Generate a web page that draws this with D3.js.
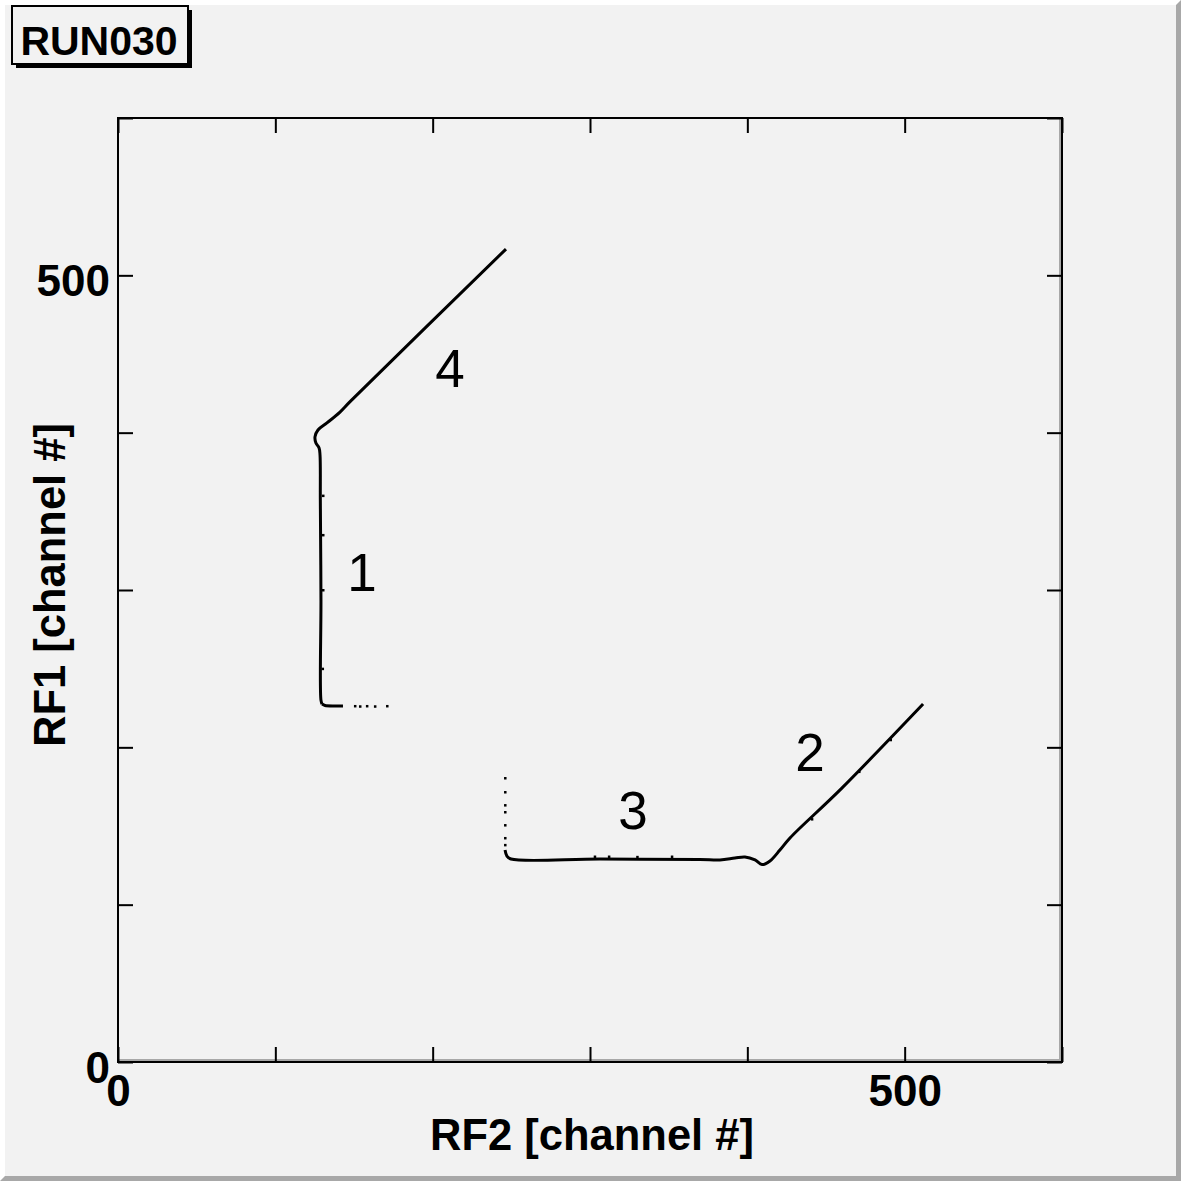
<!DOCTYPE html>
<html>
<head>
<meta charset="utf-8">
<script src="https://cdn.jsdelivr.net/npm/d3@7"></script>
<style>
  body { margin: 0; background: #f2f2f2; }
  svg { display: block; }
</style>
</head>
<body>
<div id="chart"></div>
<script>
var svgWidth = 1181;
var svgHeight = 1181;

var margin = {
  top: 118,
  right: 119,
  bottom: 119,
  left: 118
};

var width = svgWidth - margin.left - margin.right;
var height = svgHeight - margin.top - margin.bottom;

// chart data (channel units)
var runTitle = "RUN030";
var xTitle = "RF2 [channel #]";
var yTitle = "RF1 [channel #]";
var axisDomain = [0, 600];
var tickValues = [0, 100, 200, 300, 400, 500, 600];
var tickLabels = [0, 500];

// tracks 1 + 4 (vertical then diagonal)
var trackA = [
  [129.7, 227.5], [129.0, 230.0], [129.0, 293.6], [128.6, 357.2],
  [128.4, 385.8], [127.8, 390.3], [125.8, 393.4], [125.2, 397.3],
  [127.1, 401.7], [132.8, 406.2], [141.1, 413.1], [147.5, 419.7],
  [246.6, 516.7]
];
// bottom tail of track 1
var tailA = [[129.7, 227.5], [131.6, 226.6], [138.0, 226.3], [143.0, 226.3]];
var dotsA = [
  [150.6, 226.3], [153.8, 226.1], [158.2, 226.3], [163.3, 226.1], [171.0, 226.3],
  [130.3, 360.0], [130.3, 300.0], [130.0, 250.0], [130.3, 335.0]
];

// tracks 3 + 2 (horizontal then diagonal)
var trackB = [
  [246.0, 134.7], [247.2, 130.9], [249.8, 129.0], [306.4, 129.0],
  [369.9, 128.7], [382.6, 128.4], [392.1, 129.6], [398.5, 130.3],
  [404.9, 128.4], [409.3, 125.5], [414.4, 127.8], [420.7, 134.7],
  [427.1, 142.4], [459.6, 173.6], [511.7, 227.5]
];
var dotsB = [
  [246.0, 180.5], [246.0, 171.6], [246.0, 163.3], [246.0, 158.9],
  [246.0, 150.6], [246.0, 142.4], [246.0, 138.0],
  [303.0, 130.6], [312.0, 130.6], [330.0, 130.4], [352.0, 130.6],
  [441.0, 154.4], [471.0, 184.6], [491.0, 204.8]
];

var trackLabels = ["1", "2", "3", "4"];
var trackLabelPos = [[155.1, 311.4], [439.8, 197.0], [327.3, 160.2], [211.0, 441.1]];

var svg = d3
  .select("#chart")
  .append("svg")
  .attr("width", svgWidth)
  .attr("height", svgHeight);

// canvas with bevel
svg.append("rect")
  .attr("width", svgWidth)
  .attr("height", svgHeight)
  .attr("fill", "#f2f2f2");

var bw = 5;
svg.append("polygon")
  .attr("points", [[0, 0], [svgWidth, 0], [svgWidth - bw, bw], [bw, bw], [bw, svgHeight - bw], [0, svgHeight]].join(" "))
  .attr("fill", "#ffffff");
svg.append("polygon")
  .attr("points", [[svgWidth, 0], [svgWidth, svgHeight], [0, svgHeight], [bw, svgHeight - bw], [svgWidth - bw, svgHeight - bw], [svgWidth - bw, bw]].join(" "))
  .attr("fill", "#a8a8a8");

// title box
svg.append("rect")
  .attr("x", 16).attr("y", 10)
  .attr("width", 176).attr("height", 58)
  .attr("fill", "#000");
svg.append("rect")
  .attr("x", 12).attr("y", 6)
  .attr("width", 176).attr("height", 58)
  .attr("fill", "#f2f2f2")
  .attr("stroke", "#000")
  .attr("stroke-width", 2);
svg.append("text")
  .attr("x", 99).attr("y", 55)
  .attr("text-anchor", "middle")
  .attr("font-family", "Liberation Sans, Arial, sans-serif")
  .attr("font-weight", "bold")
  .attr("font-size", 41)
  .text(runTitle);

var chartGroup = svg.append("g")
  .attr("transform", `translate(${margin.left}, ${margin.top})`);

var xScale = d3.scaleLinear().domain(axisDomain).range([0, width]);
var yScale = d3.scaleLinear().domain(axisDomain).range([height, 0]);

// frame
chartGroup.append("rect")
  .attr("width", width).attr("height", height)
  .attr("fill", "#f2f2f2");
chartGroup.append("path")
  .attr("d", `M${width - 3},0 V${height - 3} H0 V${height} H${width} V0 Z`)
  .attr("fill", "#a8a8a8");

// axes with inward ticks on all four sides
var tickLen = 15;
var axisFont = "Liberation Sans, Arial, sans-serif";

function styleAxis(g) {
  g.select(".domain").remove();
  g.selectAll(".tick line").attr("stroke", "#000").attr("stroke-width", 2);
  g.selectAll(".tick text")
    .attr("fill", "#000")
    .attr("font-family", axisFont)
    .attr("font-weight", "bold")
    .attr("font-size", 44);
}

var fmt = d => tickLabels.indexOf(d) >= 0 ? d : "";

var xAxis = chartGroup.append("g")
  .attr("transform", `translate(0, ${height})`)
  .call(d3.axisTop(xScale).tickValues(tickValues).tickSize(tickLen).tickFormat(fmt))
  .call(styleAxis);
xAxis.selectAll(".tick text")
  .attr("y", 44)
  .attr("dy", 0);

chartGroup.append("g")
  .call(d3.axisBottom(xScale).tickValues(tickValues).tickSize(tickLen).tickFormat(""))
  .call(styleAxis);

var yAxis = chartGroup.append("g")
  .call(d3.axisRight(yScale).tickValues(tickValues).tickSize(tickLen).tickFormat(fmt))
  .call(styleAxis);
yAxis.selectAll(".tick text")
  .attr("text-anchor", "end")
  .attr("x", -8)
  .attr("dy", 20);

chartGroup.append("g")
  .attr("transform", `translate(${width}, 0)`)
  .call(d3.axisLeft(yScale).tickValues(tickValues).tickSize(tickLen).tickFormat(""))
  .call(styleAxis);

// frame border
chartGroup.append("rect")
  .attr("width", width).attr("height", height)
  .attr("fill", "none")
  .attr("stroke", "#000")
  .attr("stroke-width", 2);

// axis titles
chartGroup.append("text")
  .attr("x", width / 2 + 2)
  .attr("y", height + 88)
  .attr("text-anchor", "middle")
  .attr("font-family", axisFont)
  .attr("font-weight", "bold")
  .attr("font-size", 43.5)
  .text(xTitle);

chartGroup.append("text")
  .attr("transform", `translate(${-53}, ${height / 2 - 5}) rotate(-90)`)
  .attr("text-anchor", "middle")
  .attr("font-family", axisFont)
  .attr("font-weight", "bold")
  .attr("font-size", 43.5)
  .text(yTitle);

// tracks
var line = d3.line()
  .x(d => xScale(d[0]))
  .y(d => yScale(d[1]))
  .curve(d3.curveCatmullRom);

[trackA, tailA, trackB].forEach(function(track) {
  chartGroup.append("path")
    .datum(track)
    .attr("d", line)
    .attr("fill", "none")
    .attr("stroke", "#000")
    .attr("stroke-width", 3)
    .attr("stroke-linejoin", "round");
});

chartGroup.selectAll(".dot")
  .data(dotsA.concat(dotsB))
  .enter()
  .append("rect")
  .attr("class", "dot")
  .attr("x", d => xScale(d[0]) - 1)
  .attr("y", d => yScale(d[1]) - 1)
  .attr("width", 2.5)
  .attr("height", 2.5)
  .attr("fill", "#000");

// track numbers
chartGroup.selectAll(".trackLabel")
  .data(trackLabels)
  .enter()
  .append("text")
  .attr("class", "trackLabel")
  .attr("x", (d, i) => xScale(trackLabelPos[i][0]))
  .attr("y", (d, i) => yScale(trackLabelPos[i][1]))
  .attr("dy", "0.36em")
  .attr("text-anchor", "middle")
  .attr("font-family", axisFont)
  .attr("font-size", 53)
  .attr("fill", "#000")
  .text(d => d);
</script>
</body>
</html>
